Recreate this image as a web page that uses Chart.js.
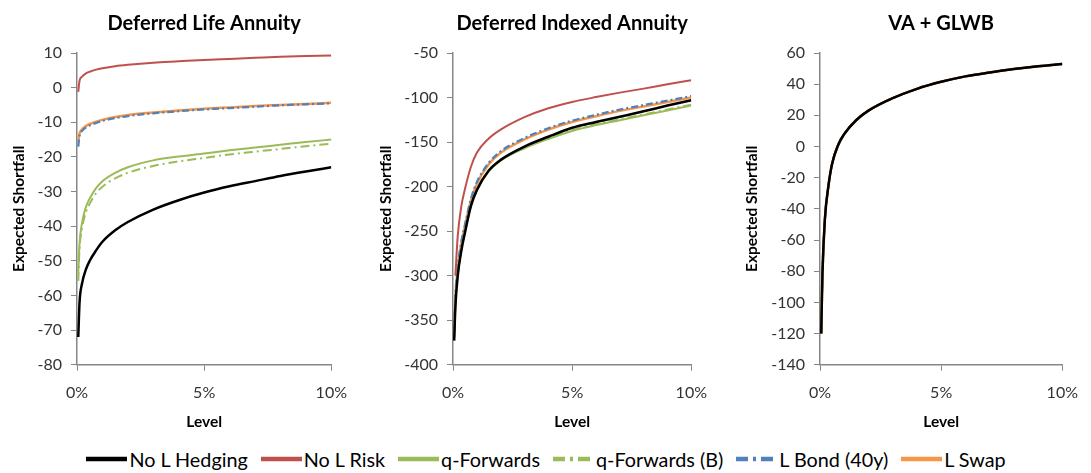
<!DOCTYPE html>
<html>
<head>
<meta charset="utf-8">
<script src="https://cdn.jsdelivr.net/npm/chart.js@4.4.1/dist/chart.umd.min.js"></script>
<style>
  html, body { margin: 0; padding: 0; background: #fff; }
  body { width: 1091px; height: 473px; position: relative; overflow: hidden; font-family: Lato, sans-serif; }
  canvas { position: absolute; top: 0; }
  #legend { position: absolute; left: 0; top: 447px; width: 1091px; display: flex; justify-content: center; align-items: center; font-size: 19.8px; color: #000; }
  #legend .item { display: flex; align-items: center; margin: 0 6px; white-space: nowrap; }
  #legend svg { margin-right: 1px; }
</style>
</head>
<body>
<canvas id="life" width="360" height="440" style="left:0px"></canvas>
<canvas id="indexed" width="360" height="440" style="left:360px"></canvas>
<canvas id="glwb" width="371" height="440" style="left:720px"></canvas>
<div id="legend"></div>
<script>
// Level in percent (x axis), shared by every panel
const levels = [0.05, 0.1, 0.2, 0.35, 0.5, 0.75, 1, 1.5, 2, 3, 4, 5, 6, 7, 8, 9, 10];

const seriesNames = ['No L Hedging', 'No L Risk', 'q-Forwards', 'q-Forwards (B)', 'L Bond (40y)', 'L Swap'];

// Deferred Life Annuity
const lifeNoHedge = [-72, -62, -56.5, -52.5, -50, -47, -44.5, -41.2, -38.8, -35.2, -32.5, -30.3, -28.5, -27, -25.5, -24.2, -23];
const lifeNoRisk  = [-1.2, 2.0, 3.2, 4.1, 4.6, 5.2, 5.6, 6.2, 6.6, 7.2, 7.6, 8.0, 8.3, 8.6, 8.9, 9.1, 9.3];
const lifeQFwd    = [-53.3, -45, -39, -34.5, -32, -29, -27, -24.6, -23, -21, -19.9, -19, -18.1, -17.3, -16.5, -15.7, -15.0];
const lifeQFwdB   = [-55.8, -46.5, -40.5, -36, -33.5, -30.5, -28.6, -26.2, -24.6, -22.6, -21.3, -20.3, -19.3, -18.5, -17.7, -16.9, -16.2];
const lifeBond    = [-17.0, -13.8, -12.5, -11.5, -10.9, -10.2, -9.6, -8.8, -8.2, -7.4, -6.8, -6.3, -5.9, -5.5, -5.1, -4.8, -4.5];
const lifeSwap    = [-15.3, -13.2, -12.0, -11.1, -10.5, -9.8, -9.3, -8.5, -7.9, -7.2, -6.6, -6.1, -5.7, -5.3, -5.0, -4.7, -4.4];

// Deferred Indexed Annuity
const idxNoHedge = [-373, -335, -300, -272, -252, -222, -204, -182, -170, -155, -144, -134, -127.5, -121.5, -115.5, -109, -103];
const idxNoRisk  = [null, -300, -255, -222, -203, -178, -162, -146, -136, -122, -112, -105, -99.5, -94.5, -90, -85, -80.5];
const idxQFwd    = [-370, -333, -299, -271, -251, -222, -204, -183, -171, -157, -146.5, -137.5, -131, -125.5, -120, -114.5, -109];
const idxQFwdB   = [-369, -332, -298, -270, -250, -221, -203, -182, -170, -156, -145.5, -136.5, -130, -124.5, -119, -113.5, -108];
const idxBond    = [-363, -323, -290, -262, -243, -214, -195, -173.5, -160.5, -145.5, -134.5, -126, -119.5, -113.5, -108.5, -103.5, -98.5];
const idxSwap    = [-365, -325, -292, -264, -245, -216, -197, -175, -162, -147, -136, -127.5, -121, -115, -110, -105, -100];

// VA + GLWB: all strategies give the same curve
const vaCurve = [-120, -82, -47, -25, -11, 1, 8, 17, 23, 31, 37, 41.5, 45, 47.5, 49.7, 51.5, 53];

const seriesStyles = [
  { color: '#000000', width: 2.5, dash: [] },
  { color: '#C0504D', width: 2, dash: [] },
  { color: '#9BBB59', width: 2, dash: [] },
  { color: '#9BBB59', width: 2, dash: [9, 4, 2, 4] },
  { color: '#4F81BD', width: 2.25, dash: [7, 3, 2, 3] },
  { color: '#F79646', width: 2.5, dash: [] }
];

const axisGrey = '#868686';
const tickFont = { family: 'Lato', size: 16 };
const boldFont = { family: 'Lato', size: 15.5, weight: 'bold' };

function buildPanel(id, title, yMin, yMax, yStep, series, box) {
  const datasets = series.map((values, i) => ({
    label: seriesNames[i],
    data: levels.map((x, j) => ({ x: x, y: values[j] })),
    borderColor: seriesStyles[i].color,
    borderWidth: seriesStyles[i].width,
    borderDash: seriesStyles[i].dash,
    pointRadius: 0,
    cubicInterpolationMode: 'monotone',
    fill: false
  }));

  return new Chart(document.getElementById(id), {
    type: 'line',
    data: { datasets: datasets },
    options: {
      responsive: false,
      animation: false,
      layout: { padding: box.padding },
      plugins: {
        legend: { display: false },
        tooltip: { enabled: false },
        title: {
          display: true,
          text: title,
          fullSize: false,
          color: '#000',
          font: { family: 'Lato', size: 20, weight: 'bold' },
          padding: { top: 12, bottom: 17 }
        }
      },
      scales: {
        x: {
          type: 'linear',
          min: 0,
          max: 10,
          ticks: {
            stepSize: 5,
            maxRotation: 0,
            padding: 13,
            color: '#333',
            font: tickFont,
            callback: v => v + '%'
          },
          grid: { drawOnChartArea: false, tickLength: 6, color: axisGrey },
          border: { color: axisGrey, width: 1.5 },
          title: { display: true, text: 'Level', color: '#000', font: boldFont, padding: { top: -3, bottom: 4 } }
        },
        y: {
          min: yMin,
          max: yMax,
          ticks: { stepSize: yStep, padding: 9, color: '#333', font: tickFont },
          grid: { drawOnChartArea: false, tickLength: 6, color: axisGrey },
          border: { color: axisGrey, width: 1.5 },
          title: { display: true, text: 'Expected Shortfall', color: '#000', font: boldFont, padding: { top: 8, bottom: 4 } },
          afterFit: scale => { scale.width = box.axisWidth; }
        }
      }
    }
  });
}

buildPanel('life', 'Deferred Life Annuity', -80, 10, 10,
  [lifeNoHedge, lifeNoRisk, lifeQFwd, lifeQFwdB, lifeBond, lifeSwap],
  { padding: { left: 2, right: 26, top: 0, bottom: 4.5 }, axisWidth: 75 });

buildPanel('indexed', 'Deferred Indexed Annuity', -400, -50, 50,
  [idxNoHedge, idxNoRisk, idxQFwd, idxQFwdB, idxBond, idxSwap],
  { padding: { left: 9, right: 20, top: 0, bottom: 4.5 }, axisWidth: 84 });

buildPanel('glwb', 'VA + GLWB', -140, 60, 20,
  [vaCurve, vaCurve, vaCurve, vaCurve, vaCurve, vaCurve],
  { padding: { left: 15, right: 24, top: 0, bottom: 4.5 }, axisWidth: 85 });

// Legend row under the three panels
const legendDash = ['', '', '', '12,5,3,5', '12,5,3,5', ''];
const legend = document.getElementById('legend');
seriesNames.forEach((name, i) => {
  const item = document.createElement('div');
  item.className = 'item';
  const dash = legendDash[i] ? ' stroke-dasharray="' + legendDash[i] + '"' : '';
  item.innerHTML = '<svg width="43" height="10"><line x1="1" y1="5" x2="42" y2="5" stroke="' +
    seriesStyles[i].color + '" stroke-width="4.5"' + dash + '/></svg><span>' + name + '</span>';
  legend.appendChild(item);
});
</script>
</body>
</html>
